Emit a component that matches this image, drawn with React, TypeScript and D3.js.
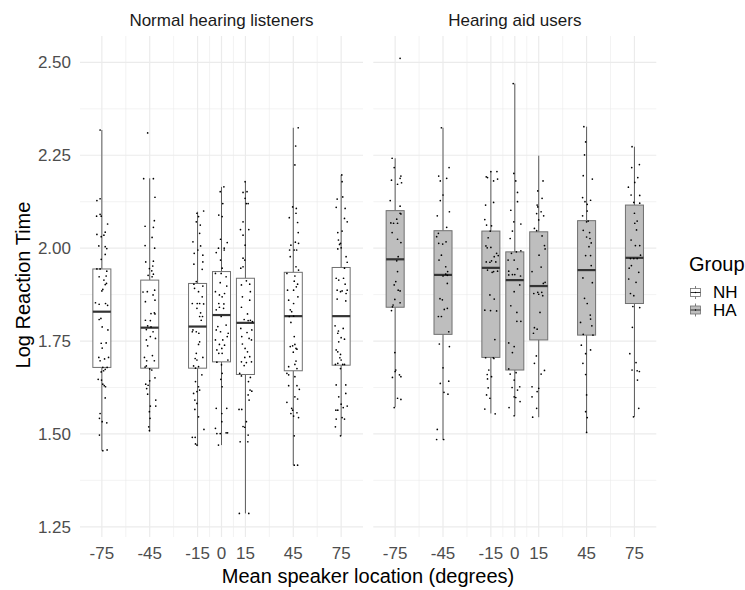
import React from "react";
import * as d3 from "d3";

// ---- Data ----
const locations = [-75, -45, -15, 0, 15, 45, 75];
const locationLabels = ["-75", "-45", "-15", "0", "15", "45", "75"];
const minorXBreaks = [-60, -30, -7.5, 7.5, 30, 60];
const yTicks = [1.25, 1.5, 1.75, 2.0, 2.25, 2.5];
const yMinorBreaks = [1.375, 1.625, 1.875, 2.125, 2.375];
const groups = ["NH", "HA"];
const panelTitles = ["Normal hearing listeners", "Hearing aid users"];

// box statistics per location (lower whisker, q1, median, q3, upper whisker)
const nhLow = [1.455, 1.506, 1.467, 1.47, 1.286, 1.416, 1.495];
const nhQ1 = [1.679, 1.677, 1.677, 1.694, 1.66, 1.67, 1.685];
const nhMed = [1.829, 1.786, 1.789, 1.82, 1.799, 1.817, 1.817];
const nhQ3 = [1.944, 1.914, 1.905, 1.937, 1.919, 1.935, 1.948];
const nhHigh = [2.318, 2.188, 2.098, 2.165, 2.179, 2.324, 2.197];

const haLow = [1.572, 1.484, 1.555, 1.549, 1.545, 1.504, 1.546];
const haQ1 = [1.841, 1.768, 1.706, 1.672, 1.753, 1.766, 1.851];
const haMed = [1.97, 1.928, 1.947, 1.914, 1.898, 1.941, 1.974];
const haQ3 = [2.101, 2.047, 2.046, 1.99, 2.044, 2.074, 2.116];
const haHigh = [2.242, 2.324, 2.206, 2.443, 2.249, 2.327, 2.273];

// jittered observations: [log reaction time, horizontal jitter in degrees]
const nh_m75 = [[2.318,-1.1],[2.128,-3.1],[2.133,-1.1],[2.086,-3.3],[2.091,-1.1],[2.086,-0.4],[2.065,3.6],[2.043,2.1],[2.037,-3.1],[2.031,-0.4],[2.035,1.3],[2.006,-1.9],[2.004,2.1],[1.999,3.1],[1.97,-0.4],[1.983,2.1],[1.944,-3.1],[1.944,-1.1],[1.938,3.1],[1.923,-1.7],[1.925,2.7],[1.914,1.3],[1.905,2.9],[1.902,2.1],[1.889,0.6],[1.885,0],[1.853,-4.0],[1.849,-1.7],[1.851,2.3],[1.846,3.6],[1.808,-1.7],[1.811,-0.6],[1.78,3.8],[1.788,0.2],[1.745,2.7],[1.744,-0.4],[1.731,0.2],[1.706,-1.9],[1.697,-1.1],[1.702,1.7],[1.706,4.2],[1.679,0.6],[1.674,2.1],[1.67,1.1],[1.667,-0.4],[1.679,3.3],[1.647,-2.3],[1.645,-0.2],[1.634,0.6],[1.63,1.5],[1.627,2.3],[1.597,2.1],[1.555,-1.1],[1.542,-1.5],[1.533,0.2],[1.53,3.1],[1.497,-1.5],[1.455,0.6],[1.457,3.3]];
const nh_m45 = [[2.31,-1.3],[2.187,-3.8],[2.187,2.3],[2.137,3.3],[2.059,-2.9],[2.074,2.9],[2.056,2.3],[2.029,1.5],[2.007,-2.9],[2.0,3.1],[1.963,-2.5],[1.965,2.3],[1.952,1.9],[1.945,-0.2],[1.939,1.3],[1.93,2.3],[1.927,-1.0],[1.923,1.5],[1.887,3.1],[1.882,-4.2],[1.883,-1.5],[1.874,2.1],[1.86,3.3],[1.856,-2.7],[1.826,2.9],[1.824,0.8],[1.823,3.3],[1.806,-2.7],[1.805,0.4],[1.791,-1.3],[1.788,0.8],[1.781,-2.1],[1.775,2.1],[1.762,0.4],[1.753,-2.1],[1.757,3.6],[1.737,-1.3],[1.706,-3.3],[1.711,1.7],[1.697,-1.9],[1.697,2.9],[1.683,-2.1],[1.68,-2.9],[1.675,0],[1.672,1.3],[1.651,3.3],[1.643,0],[1.634,-2.5],[1.631,-1.0],[1.622,-1.9],[1.607,-1.3],[1.591,3.8],[1.575,0.4],[1.575,3.8],[1.56,-0.2],[1.542,0.2],[1.519,-0.6],[1.509,-0.2]];
const nh_m15 = [[2.1,3.8],[2.094,-0.4],[2.085,0.6],[2.071,-0.8],[2.062,1.7],[2.04,1.3],[2.017,-2.9],[2.006,1.9],[1.995,0.2],[1.986,-2.1],[1.981,3.3],[1.963,3.3],[1.957,-2.3],[1.943,2.9],[1.903,-2.3],[1.91,-0.8],[1.892,-1.9],[1.898,3.3],[1.883,0.6],[1.869,2.9],[1.851,-3.3],[1.851,-0.2],[1.851,1.3],[1.85,3.8],[1.838,-0.4],[1.826,1.9],[1.816,1.3],[1.816,3.1],[1.806,2.3],[1.78,-2.9],[1.775,-0.8],[1.775,-3.3],[1.771,0.8],[1.748,1.3],[1.741,0.6],[1.717,-0.8],[1.703,-1.5],[1.706,3.3],[1.699,-0.4],[1.683,-2.5],[1.681,0.6],[1.677,-1.3],[1.659,2.7],[1.641,-1.3],[1.627,0.6],[1.618,1.3],[1.614,-0.4],[1.609,-2.5],[1.591,-1.7],[1.582,-0.4],[1.566,-1.7],[1.546,0.6],[1.512,4.0],[1.491,-3.3],[1.491,-1.5],[1.473,-1.3],[1.47,-0.4]];
const nh_0 = [[2.165,1.5],[2.152,-0.8],[2.12,0.8],[2.089,-1.7],[2.085,0.4],[2.024,-0.6],[2.015,3.6],[2.0,-1.9],[2.0,1.7],[1.988,-3.3],[1.995,1.7],[1.968,-0.6],[1.946,0.4],[1.932,-3.8],[1.932,-0.2],[1.923,2.9],[1.907,-0.8],[1.898,3.3],[1.883,-3.8],[1.878,1.9],[1.874,-1.3],[1.869,0.4],[1.851,-1.7],[1.85,1.5],[1.841,-1.3],[1.838,1.3],[1.834,-3.3],[1.816,-0.2],[1.793,2.9],[1.789,-2.3],[1.78,-3.3],[1.775,-0.6],[1.771,4.2],[1.762,3.6],[1.753,-3.8],[1.753,0.8],[1.741,-1.3],[1.739,1.9],[1.726,-2.9],[1.73,0.2],[1.717,-1.7],[1.717,0.4],[1.699,4.0],[1.693,-2.9],[1.686,0],[1.663,0.4],[1.647,-0.4],[1.627,0.4],[1.569,-3.3],[1.569,3.3],[1.555,0.2],[1.533,0.2],[1.515,-3.8],[1.501,-2.9],[1.501,-0.8],[1.503,2.9],[1.503,3.8],[1.47,-1.9]];
const nh_15 = [[2.179,-0.2],[2.15,-1.5],[2.152,1.0],[2.134,-0.2],[2.12,0.6],[2.12,1.7],[2.071,-1.5],[2.05,-3.1],[2.05,2.1],[2.035,-1.5],[2.008,-0.2],[1.973,-1.5],[1.968,-0.4],[1.946,-2.9],[1.95,-1.5],[1.912,0.6],[1.901,-2.5],[1.903,2.7],[1.883,3.1],[1.869,-1.9],[1.86,2.7],[1.841,-2.5],[1.823,1.3],[1.806,3.1],[1.808,-0.8],[1.805,1.7],[1.802,4.4],[1.784,-2.9],[1.78,4.0],[1.773,1.0],[1.762,-2.3],[1.757,2.3],[1.742,-1.9],[1.753,3.8],[1.73,-0.2],[1.721,1.3],[1.708,2.7],[1.706,-0.4],[1.694,-2.5],[1.694,3.8],[1.692,0.6],[1.684,-0.8],[1.663,-3.6],[1.656,-2.5],[1.652,3.1],[1.641,1.9],[1.618,2.9],[1.615,4.0],[1.605,1.7],[1.591,2.3],[1.566,-4.0],[1.566,-2.3],[1.52,-1.5],[1.518,-0.4],[1.533,0.6],[1.497,1.7],[1.479,-3.3],[1.479,1.5],[1.286,-3.8],[1.286,2.1]];
const nh_45 = [[2.324,3.1],[2.275,1.5],[2.224,1.0],[2.111,-0.4],[2.107,1.9],[2.094,1.7],[2.082,-2.5],[2.069,2.7],[2.042,3.1],[2.008,-1.5],[2.016,1.3],[2.013,3.3],[1.995,-2.3],[1.995,0.6],[1.995,2.1],[1.977,-1.9],[1.95,1.7],[1.941,3.3],[1.932,-4.0],[1.925,1.0],[1.911,0.6],[1.903,2.7],[1.896,1.9],[1.887,-3.6],[1.887,0.2],[1.869,2.9],[1.86,-2.9],[1.851,0.2],[1.834,-1.9],[1.829,-1.0],[1.816,-2.5],[1.817,0.2],[1.8,-1.5],[1.762,0.6],[1.735,-1.9],[1.737,-0.4],[1.741,1.0],[1.73,1.7],[1.728,2.3],[1.72,0],[1.696,1.7],[1.687,1.0],[1.681,-2.9],[1.676,2.3],[1.663,-4.0],[1.659,-2.9],[1.654,1.0],[1.63,2.3],[1.63,-2.9],[1.62,3.8],[1.6,1.0],[1.594,2.7],[1.585,-4.0],[1.569,-1.0],[1.564,-0.4],[1.555,-1.5],[1.557,2.3],[1.548,0.2],[1.544,3.3],[1.495,0.6],[1.416,0.6],[1.416,2.7]];
const nh_75 = [[2.197,0.4],[2.179,0.6],[2.138,1.0],[2.132,-2.5],[2.107,2.5],[2.11,-3.1],[2.08,2.1],[2.071,3.8],[2.046,0.6],[2.042,-2.1],[2.022,-1.7],[2.013,-0.4],[2.01,-1.0],[1.998,-2.1],[2.001,0],[1.977,3.1],[1.962,3.8],[1.946,2.1],[1.919,-3.1],[1.914,-1.5],[1.919,1.5],[1.903,2.5],[1.887,-2.5],[1.885,0.6],[1.887,3.8],[1.883,-0.4],[1.878,3.1],[1.863,-2.5],[1.858,2.9],[1.791,-3.8],[1.777,-1.7],[1.784,1.3],[1.771,-2.1],[1.755,2.1],[1.759,0],[1.748,-1.5],[1.726,-3.1],[1.721,-2.1],[1.714,-0.4],[1.705,-0.8],[1.699,0],[1.69,-2.1],[1.687,1.0],[1.687,2.1],[1.687,-3.6],[1.676,-0.4],[1.632,-3.1],[1.632,2.9],[1.6,-1.5],[1.609,2.9],[1.58,0],[1.564,-2.1],[1.564,-3.3],[1.571,1.3],[1.575,3.8],[1.544,0.6],[1.54,-3.1],[1.54,2.1],[1.519,-3.6],[1.495,-0.4]];

const ha_m75 = [[2.511,3.1],[2.242,-1.9],[2.217,-0.6],[2.194,3.6],[2.188,3.1],[2.183,-2.3],[2.172,1.5],[2.176,4.0],[2.128,-3.1],[2.113,3.1],[2.094,3.1],[2.092,3.6],[2.068,-2.7],[2.067,-1.0],[2.067,1.5],[2.078,1.0],[2.042,-1.9],[2.024,1.5],[2.015,3.6],[1.977,1.9],[1.966,1.0],[1.937,1.5],[1.91,0.4],[1.901,-0.6],[1.887,1.9],[1.885,3.1],[1.862,-0.2],[1.853,3.1],[1.847,-1.3],[1.842,-1.7],[1.832,-2.3],[1.719,-0.2],[1.672,0.4],[1.668,0],[1.652,-1.7],[1.659,2.7],[1.654,3.6],[1.596,1.5],[1.593,3.6],[1.571,-0.6]];
const ha_m45 = [[2.324,-1.0],[2.217,3.8],[2.194,-2.7],[2.188,2.3],[2.181,-1.7],[2.143,0],[2.128,-1.7],[2.098,4.0],[2.087,-3.6],[2.056,2.3],[2.04,-2.9],[2.031,-4.0],[2.017,1.9],[2.011,-0.2],[2.013,-2.7],[1.981,-1.0],[1.968,-2.5],[1.95,1.7],[1.937,2.9],[1.93,1.7],[1.925,0],[1.927,2.7],[1.905,2.7],[1.864,-1.9],[1.861,-0.4],[1.838,2.7],[1.835,0.8],[1.816,-2.9],[1.816,-1.0],[1.775,3.6],[1.742,-2.3],[1.735,4.0],[1.678,0],[1.636,-1.7],[1.642,3.6],[1.612,0.6],[1.607,3.1],[1.512,-3.6],[1.485,-4.0],[1.485,0.4]];
const ha_m15 = [[2.206,0],[2.206,3.8],[2.192,-2.9],[2.19,-2.1],[2.181,1.7],[2.186,4.2],[2.116,-3.3],[2.123,1.7],[2.077,-3.8],[2.062,-2.7],[2.06,0.4],[2.046,-0.4],[2.028,-1.7],[2.006,-3.1],[2.001,-2.3],[2.002,0],[1.986,3.6],[1.977,2.1],[1.98,4.6],[1.966,0.4],[1.963,-2.9],[1.962,-0.6],[1.963,3.1],[1.941,-2.1],[1.935,0.8],[1.937,1.7],[1.938,4.2],[1.874,-0.6],[1.863,2.1],[1.833,-3.8],[1.832,-0.2],[1.831,3.6],[1.754,2.5],[1.705,-3.3],[1.705,1.5],[1.703,1.9],[1.672,-1.3],[1.66,-2.3],[1.654,0.4],[1.648,-2.1],[1.624,-1.7],[1.605,-2.7],[1.596,-0.6],[1.567,-3.8],[1.554,2.7]];
const ha_0 = [[2.443,-1.0],[2.201,-0.6],[2.181,0.6],[2.15,1.7],[2.125,1.7],[2.102,-2.5],[2.071,-0.6],[2.065,3.8],[2.046,-1.5],[2.026,-2.9],[1.986,-2.1],[1.99,1.0],[1.993,3.8],[1.968,-4.2],[1.968,-0.4],[1.944,1.7],[1.938,-3.8],[1.929,-1.5],[1.929,0],[1.925,3.6],[1.928,-3.8],[1.901,3.1],[1.883,-0.4],[1.845,-2.5],[1.827,1.3],[1.803,1.3],[1.803,3.8],[1.745,-3.8],[1.735,-0.4],[1.719,-1.5],[1.675,-3.8],[1.665,0.8],[1.661,-2.9],[1.645,-0.4],[1.625,-1.7],[1.627,3.1],[1.618,1.7],[1.6,-0.4],[1.598,0.6],[1.587,3.3],[1.571,-3.6],[1.549,-0.4]];
const ha_15 = [[2.181,2.7],[2.154,-0.6],[2.134,2.1],[2.116,-1.0],[2.111,-0.6],[2.098,1.5],[2.093,-1.3],[2.087,3.1],[2.076,0],[2.053,-2.7],[2.047,-1.3],[2.033,2.1],[2.007,3.6],[1.998,4.0],[1.981,0.2],[1.937,-4.2],[1.949,1.5],[1.908,4.0],[1.905,2.9],[1.878,-3.1],[1.881,-0.6],[1.881,1.9],[1.872,2.5],[1.876,0],[1.827,0.8],[1.786,-2.7],[1.782,-1.0],[1.771,-3.3],[1.71,-1.5],[1.69,-2.7],[1.661,1.5],[1.671,3.6],[1.627,-4.2],[1.623,0],[1.614,-1.0],[1.6,-4.2],[1.569,-1.3],[1.545,-3.8]];
const ha_45 = [[2.327,-1.7],[2.286,-0.6],[2.251,-1.3],[2.195,-2.1],[2.186,3.6],[2.136,-2.5],[2.129,2.5],[2.125,-1.0],[2.118,0.4],[2.1,0.4],[2.087,-2.5],[2.071,0],[2.073,1.0],[2.048,-2.1],[2.042,1.9],[2.03,0],[2.026,2.1],[2.014,2.9],[2.004,1.5],[1.98,-0.6],[1.98,2.5],[1.953,2.9],[1.92,-2.3],[1.907,3.6],[1.865,-1.3],[1.851,0.4],[1.82,2.3],[1.809,2.5],[1.8,-3.8],[1.791,3.3],[1.768,-2.1],[1.766,4.0],[1.739,-3.3],[1.726,2.5],[1.716,-0.6],[1.69,-2.3],[1.66,-0.6],[1.605,0],[1.56,-0.6],[1.544,0.4],[1.504,0]];
const ha_75 = [[2.273,-1.5],[2.225,3.1],[2.217,-1.7],[2.19,2.1],[2.177,0.2],[2.164,-3.8],[2.143,-2.1],[2.142,3.3],[2.123,-0.4],[2.121,3.3],[2.094,0],[2.073,1.7],[2.067,0.2],[2.049,1.3],[2.022,-2.1],[2.007,0.6],[2.007,3.3],[1.981,3.8],[1.972,-2.5],[1.972,-0.4],[1.972,1.7],[1.953,-1.9],[1.946,-3.3],[1.935,2.7],[1.917,-3.6],[1.908,1.0],[1.878,-2.5],[1.872,-0.4],[1.843,-1.0],[1.84,3.3],[1.787,-1.3],[1.716,-2.9],[1.692,1.0],[1.672,-1.5],[1.67,1.7],[1.668,3.1],[1.645,1.9],[1.569,2.7],[1.546,-0.6]];

const nhPoints = [nh_m75, nh_m45, nh_m15, nh_0, nh_15, nh_45, nh_75];
const haPoints = [ha_m75, ha_m45, ha_m15, ha_0, ha_15, ha_45, ha_75];

// ---- Layout ----
const W = 745;
const H = 590;
const FONT = "'Liberation Sans', Arial, Helvetica, sans-serif";
const panelLefts = [80, 373.3];
const panelWidth = 283;
const panelTop = 36;
const panelBottom = 537;
const xDomain: [number, number] = [-88.7, 88.7];
const yDomain: [number, number] = [1.2226, 2.571];
const boxHalfWidth = 5.65; // degrees
const gridColor = "#EBEBEB";
const fills = ["#FFFFFF", "#BEBEBE"];

export default function App() {
  const y = d3.scaleLinear().domain(yDomain).range([panelBottom, panelTop]);
  const fmt = d3.format(".2f");

  const stats = [
    { low: nhLow, q1: nhQ1, med: nhMed, q3: nhQ3, high: nhHigh, pts: nhPoints },
    { low: haLow, q1: haQ1, med: haMed, q3: haQ3, high: haHigh, pts: haPoints },
  ];

  return (
    <svg
      width={W}
      height={H}
      style={{ position: "absolute", left: 0, top: 0, background: "#fff" }}
      fontFamily={FONT}
    >
      <rect x={0} y={0} width={W} height={H} fill="#fff" />
      {panelLefts.map((x0, pi) => {
        const x = d3.scaleLinear().domain(xDomain).range([x0, x0 + panelWidth]);
        const s = stats[pi];
        return (
          <g key={pi}>
            {/* minor grid */}
            {yMinorBreaks.map((v) => (
              <line key={"ym" + v} x1={x0} x2={x0 + panelWidth} y1={y(v)} y2={y(v)} stroke={gridColor} strokeWidth={0.6} />
            ))}
            {minorXBreaks.map((v) => (
              <line key={"xm" + v} x1={x(v)} x2={x(v)} y1={panelTop} y2={panelBottom} stroke={gridColor} strokeWidth={0.6} />
            ))}
            {/* major grid */}
            {yTicks.map((v) => (
              <line key={"y" + v} x1={x0} x2={x0 + panelWidth} y1={y(v)} y2={y(v)} stroke={gridColor} strokeWidth={1.2} />
            ))}
            {locations.map((v) => (
              <line key={"x" + v} x1={x(v)} x2={x(v)} y1={panelTop} y2={panelBottom} stroke={gridColor} strokeWidth={1.2} />
            ))}
            {/* strip title */}
            <text x={x(0)} y={26} textAnchor="middle" fontSize={17} fill="#1A1A1A">
              {panelTitles[pi]}
            </text>
            {/* boxes */}
            {locations.map((loc, i) => {
              const xl = x(loc - boxHalfWidth);
              const xr = x(loc + boxHalfWidth);
              const xc = x(loc);
              return (
                <g key={"b" + loc}>
                  <line x1={xc} x2={xc} y1={y(s.high[i])} y2={y(s.q3[i])} stroke="#5c5c5c" strokeWidth={1} />
                  <line x1={xc} x2={xc} y1={y(s.q1[i])} y2={y(s.low[i])} stroke="#5c5c5c" strokeWidth={1} />
                  <rect
                    x={xl}
                    y={y(s.q3[i])}
                    width={xr - xl}
                    height={y(s.q1[i]) - y(s.q3[i])}
                    fill={fills[pi]}
                    stroke="#707070"
                    strokeWidth={1}
                  />
                  <line x1={xl} x2={xr} y1={y(s.med[i])} y2={y(s.med[i])} stroke="#333333" strokeWidth={2.2} />
                </g>
              );
            })}
            {/* jittered points */}
            {locations.map((loc, i) =>
              s.pts[i].map((p, j) => (
                <circle key={"p" + loc + "-" + j} cx={x(loc + p[1])} cy={y(p[0])} r={0.85} fill="#000" />
              ))
            )}
            {/* x tick labels */}
            {locations.map((loc, i) => (
              <text key={"xt" + loc} x={x(loc)} y={559} textAnchor="middle" fontSize={17} fill="#4D4D4D">
                {locationLabels[i]}
              </text>
            ))}
          </g>
        );
      })}
      {/* y tick labels */}
      {yTicks.map((v) => (
        <text key={"yt" + v} x={71} y={y(v) + 6} textAnchor="end" fontSize={17} fill="#4D4D4D">
          {fmt(v)}
        </text>
      ))}
      {/* axis titles */}
      <text x={368} y={583} textAnchor="middle" fontSize={20} fill="#000">
        Mean speaker location (degrees)
      </text>
      <text
        transform={`translate(30, ${285}) rotate(-90)`}
        textAnchor="middle"
        fontSize={20}
        fill="#000"
      >
        Log Reaction Time
      </text>
      {/* legend */}
      <text x={689} y={271} fontSize={20} fill="#000">
        Group
      </text>
      {groups.map((g, i) => {
        const cy = 292.5 + i * 17.5;
        return (
          <g key={"lg" + g}>
            <line x1={695.5} x2={695.5} y1={cy - 6.5} y2={cy + 6.5} stroke="#5c5c5c" strokeWidth={0.8} />
            <rect x={690.5} y={cy - 4} width={10} height={8} fill={fills[i]} stroke="#707070" strokeWidth={0.8} />
            <line x1={690.5} x2={700.5} y1={cy} y2={cy} stroke="#333" strokeWidth={1} />
            <circle cx={695.5} cy={cy} r={0.7} fill="#000" />
            <text x={713} y={cy + 5.5} fontSize={17} fill="#000">
              {g}
            </text>
          </g>
        );
      })}
    </svg>
  );
}
